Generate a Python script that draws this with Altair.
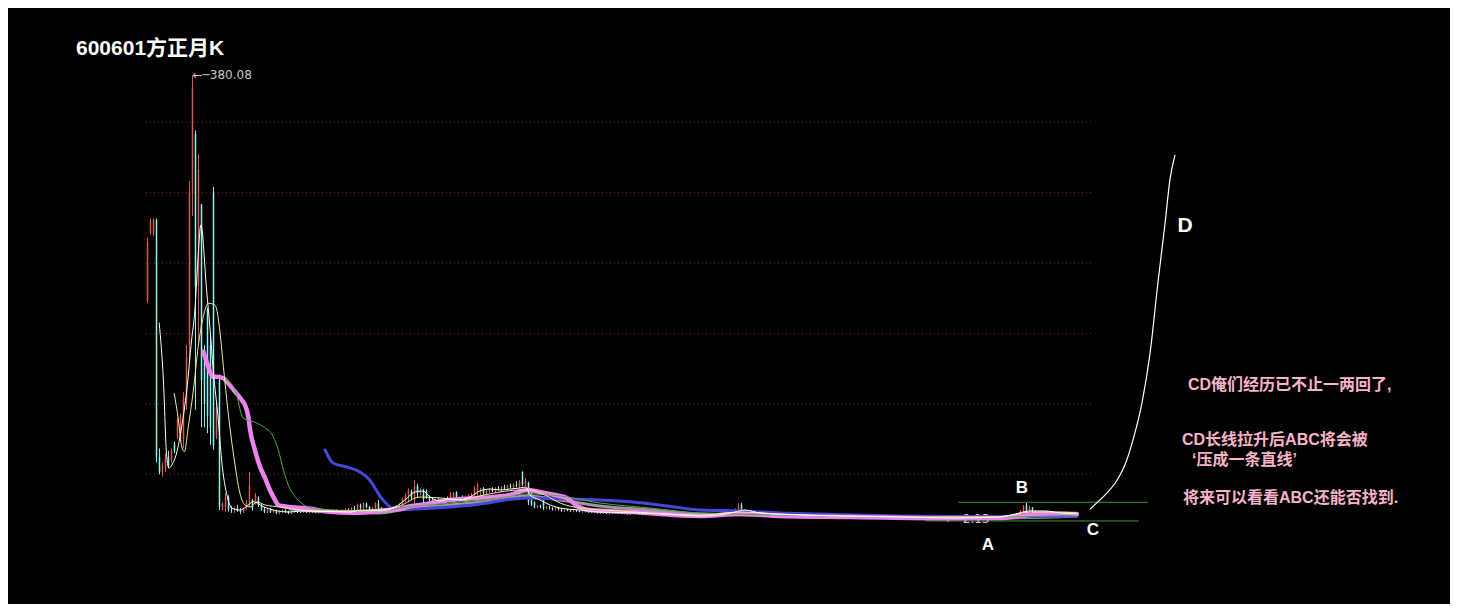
import altair as alt
import pandas as pd

# ---------------- monthly candles (index = month number) ----------------
opens = [
    188, 246, 245, 257, 55, 42, 45, 55, 52, 66,
    72, 70, 70, 100, 150, 280, 330, 200, 270, 146,
    180, 150, 280, 72, 120, 10, 12, 20, 10, 9,
    11, 9, 8, 11, 14, 18, 15, 20, 14, 10,
    8, 10, 8, 9, 7, 8, 9, 8, 7, 8,
    9, 8, 7.5, 8.5, 7.5, 8, 7.5, 7, 7.5, 8.5,
    7.5, 7, 8, 9.5, 8.5, 8, 9.5, 10, 9, 11,
    10, 14, 11, 15, 12, 10, 11, 15, 11, 9,
    10, 9, 11, 12, 13, 14, 18, 20, 26, 18,
    30, 24, 27, 26, 20, 18, 16, 18, 17, 16,
    19, 18, 20, 25, 19, 20, 19, 21, 22, 22,
    25, 27, 28, 24, 26, 27, 26, 28, 27, 29,
    28, 30, 29, 31, 30, 42, 31, 33, 25, 16,
    12, 13, 18, 11, 12, 11, 10, 11, 10, 9,
    9.5, 9, 8.5, 9, 8.5, 8, 8.5, 8, 7.5, 8,
    7.5, 7, 7.5, 7, 6.5, 7, 7.5, 7, 6.5, 7,
    6.5, 6, 6.5, 7, 6.5, 6, 5.5, 6, 6.5, 6,
    5.5, 5, 5.5, 6, 5.5, 5, 4.5, 5, 5.5, 5,
    4.5, 4, 4.5, 5, 4.5, 4, 4.5, 5, 5.5, 5,
    5.5, 6, 6.5, 7, 7.5, 8.5, 9.5, 8, 14, 9,
    7.5, 7, 6.5, 6, 6.5, 6, 5.5, 6, 5.5, 5,
    5.5, 5, 5.3, 5.6, 5.2, 5, 4.8, 5.1, 4.9, 4.6,
    5, 4.8, 4.5, 4.7, 5, 4.6, 4.3, 4.5, 4.8, 4.4,
    4.1, 4.3, 4.6, 4.3, 4, 4.2, 4.5, 4.1, 3.8, 4,
    4.3, 3.9, 3.6, 3.9, 4.1, 3.7, 3.5, 3.8, 4, 3.6,
    3.3, 3.6, 3.8, 3.4, 3.1, 3.4, 3.6, 3.2, 2.9, 3.2,
    3.4, 3, 2.7, 3, 3.2, 2.8, 2.5, 2.6, 2.9, 3.1,
    2.9, 2.7, 3, 3.2, 3.4, 3.1, 3.3, 3.5, 3.2, 3.4,
    3.6, 3.3, 3.5, 3.7, 3.4, 3.7, 4, 3.8, 4.1, 4.4,
    4.8, 5.3, 6.5, 14, 7, 11.5, 8, 7.5, 8, 7.5,
    8, 7, 7.5, 6.5, 7, 6.5, 6, 6.5, 6, 5.5, 6,
]
highs = [
    242, 258, 258, 258, 62, 50, 58, 60, 62, 68,
    88, 92, 110, 150, 290, 380.08, 333, 313, 270, 150,
    182, 160, 285, 100, 125, 16, 24, 22, 13, 12,
    14, 11, 12, 18, 42, 19, 24, 21, 15, 12,
    11, 11, 10, 10, 9, 10, 10, 9, 9, 10,
    10, 9, 9, 9, 8.5, 9, 8.5, 8, 9, 9,
    8.5, 8.5, 10, 10, 9.5, 10, 11, 11, 12, 13,
    15, 15, 16, 16, 13, 12, 16, 18, 12, 11,
    11, 12, 13, 14, 15, 20, 24, 28, 27, 35,
    32, 28, 27.5, 27, 22, 20, 19, 20, 19, 20,
    21, 25, 25, 25.5, 21, 22, 22, 23, 24, 30,
    33, 28.5, 29, 27, 28, 29, 29, 30, 30, 31,
    31, 32, 32, 34, 35, 42.5, 37, 33.7, 26, 17,
    14, 14, 18, 13, 13, 12, 12, 12, 11, 10,
    10.5, 10, 9.5, 10, 9.5, 9, 9.5, 9, 8.5, 9,
    8.5, 8, 8.5, 8, 7.5, 8, 8.5, 7.5, 7.5, 8,
    7, 7, 7.5, 7.5, 7, 6.5, 6.5, 7, 7, 6.5,
    6, 6, 6.5, 6.5, 6, 5.5, 5.5, 6, 6, 5.5,
    5, 5, 5.5, 5.5, 5, 5, 5.5, 6, 6, 6,
    6.5, 7, 7.5, 8, 9, 10, 11, 15.5, 15.8, 10,
    8.5, 7.5, 7, 7, 7, 6.5, 6.5, 6.5, 6, 6,
    6, 5.5, 6, 6.2, 5.8, 5.5, 5.4, 5.6, 5.3, 5.2,
    5.5, 5.2, 5, 5.3, 5.4, 5, 4.8, 5, 5.2, 4.8,
    4.6, 4.9, 5, 4.7, 4.5, 4.8, 4.9, 4.5, 4.3, 4.6,
    4.7, 4.3, 4.1, 4.4, 4.5, 4.1, 4, 4.3, 4.4, 4,
    3.8, 4.1, 4.2, 3.8, 3.6, 3.9, 4, 3.6, 3.4, 3.7,
    3.8, 3.4, 3.2, 3.5, 3.5, 3.1, 2.9, 3.1, 3.3, 3.5,
    3.2, 3.1, 3.4, 3.6, 3.8, 3.5, 3.7, 3.9, 3.6, 3.8,
    4, 3.7, 3.9, 4.1, 3.9, 4.2, 4.4, 4.3, 4.7, 5,
    5.6, 9.5, 13.8, 15.5, 13, 12, 9, 8.5, 9, 8.5,
    8.5, 8, 8, 7.5, 7.5, 7, 7, 7, 6.5, 6.5, 6.5,
]
lows = [
    186, 244, 243, 50, 40, 38, 42, 45, 50, 58,
    70, 68, 62, 95, 136, 260, 95, 150, 80, 80,
    75, 65, 61, 70, 9.5, 9, 8, 8, 7, 7,
    8, 6, 7, 10, 12, 9, 14, 12, 9, 7,
    7, 7, 7, 6, 6, 7, 7, 6, 6, 7,
    7, 7, 7, 7, 6.5, 7, 6.5, 6, 7, 7,
    6.5, 6.5, 7.5, 8, 7.5, 7.5, 8.5, 8.5, 8.5, 9,
    9, 10, 10, 11, 9, 9, 10, 10, 8, 8,
    8, 8, 9, 10, 11, 13, 16, 16, 18, 15,
    20, 22, 14, 19, 17, 15, 15, 16, 15, 15,
    17, 16, 15, 18, 17, 18, 18, 19, 20, 21,
    20, 20, 22, 23, 24, 25, 24, 26, 25, 27,
    26, 28, 27, 29, 28, 30, 30, 13.8, 13, 11,
    11, 11, 9.5, 10, 10, 9, 9, 9, 8, 8,
    8.5, 8, 7.5, 8, 7.5, 7, 7.5, 7, 6.5, 7,
    6.5, 6, 6.5, 6, 5.5, 6, 6.5, 6, 5.5, 6,
    5.5, 5.5, 6, 6, 5.5, 5, 5, 5.5, 5.5, 5,
    4.5, 4.5, 5, 5, 4.5, 4, 4, 4.5, 4.5, 4,
    3.5, 3.5, 4, 4, 3.5, 3.5, 4, 4.5, 4.5, 4.5,
    5, 5.5, 6, 6, 7, 7.5, 8.5, 7.5, 7.8, 7,
    6.5, 6, 5.5, 5.5, 5.5, 5, 5, 5, 4.5, 4.5,
    4.5, 4.5, 4.8, 5, 4.6, 4.4, 4.3, 4.5, 4.2, 4.1,
    4.5, 4.2, 4, 4.3, 4.4, 4, 3.8, 4, 4.2, 3.8,
    3.6, 3.9, 4.1, 3.7, 3.5, 3.8, 3.9, 3.5, 3.4, 3.7,
    3.8, 3.3, 3.2, 3.5, 3.6, 3.2, 3.1, 3.4, 3.5, 3.1,
    2.9, 3.2, 3.3, 2.9, 2.8, 3, 3.1, 2.7, 2.6, 2.9,
    2.9, 2.5, 2.4, 2.7, 2.6, 2.3, 2.13, 2.4, 2.6, 2.8,
    2.5, 2.4, 2.7, 2.9, 3, 2.8, 3, 3.1, 2.9, 3.1,
    3.2, 3, 3.1, 3.3, 3.1, 3.4, 3.6, 3.5, 3.8, 4,
    4.4, 5.2, 5.3, 5.3, 5.3, 7, 6.5, 6.5, 7, 6.5,
    6.5, 6.5, 6, 6, 6, 5.5, 5.5, 5.5, 5, 5, 5.5,
]
closes = [
    238, 256, 257, 55, 42, 48, 55, 47, 60, 60,
    86, 90, 105, 140, 280, 370, 200, 300, 120, 100,
    90, 80, 65, 97, 12, 15, 20, 10, 9, 11,
    9, 8, 11, 16, 30, 11, 22, 14, 10, 8,
    10, 8, 9, 7, 8, 9, 8, 7, 8, 9,
    8, 7.5, 8.5, 7.5, 8, 7.5, 7, 7.5, 8.5, 7.5,
    7, 8, 9.5, 8.5, 8, 9.5, 10, 9, 11, 10,
    14, 11, 15, 12, 10, 11, 15, 11, 9, 10,
    9, 11, 12, 13, 14, 19, 22, 26, 20, 30,
    24, 26, 19, 20, 18, 16, 18, 17, 16, 19,
    18, 24, 24, 19, 20, 19, 21, 22, 23, 28,
    31, 28, 24, 26, 27, 26, 28, 27, 29, 28,
    30, 29, 31, 30, 34, 31, 35, 16, 14, 12,
    13, 12, 11, 12, 11, 10, 11, 10, 9, 9.5,
    9, 8.5, 9, 8.5, 8, 8.5, 8, 7.5, 8, 7.5,
    7, 7.5, 7, 6.5, 7, 7.5, 7, 6.5, 7, 6.5,
    6, 6.5, 7, 6.5, 6, 5.5, 6, 6.5, 6, 5.5,
    5, 5.5, 6, 5.5, 5, 4.5, 5, 5.5, 5, 4.5,
    4, 4.5, 5, 4.5, 4, 4.5, 5, 5.5, 5, 5.5,
    6, 6.5, 7, 7.5, 8.5, 9.5, 10, 12, 9, 7.5,
    7, 6.5, 6, 6.5, 6, 5.5, 6, 5.5, 5, 5.5,
    5, 5.3, 5.6, 5.2, 5, 4.8, 5.1, 4.9, 4.6, 5,
    4.8, 4.5, 4.7, 5, 4.6, 4.3, 4.5, 4.8, 4.4, 4.1,
    4.3, 4.6, 4.3, 4, 4.2, 4.5, 4.1, 3.8, 4, 4.3,
    3.9, 3.6, 3.9, 4.1, 3.7, 3.5, 3.8, 4, 3.6, 3.3,
    3.6, 3.8, 3.4, 3.1, 3.4, 3.6, 3.2, 2.9, 3.2, 3.4,
    3, 2.7, 3, 3.2, 2.8, 2.5, 2.6, 2.9, 3.1, 2.9,
    2.7, 3, 3.2, 3.4, 3.1, 3.3, 3.5, 3.2, 3.4, 3.6,
    3.3, 3.5, 3.7, 3.4, 3.7, 4, 3.8, 4.1, 4.4, 4.8,
    5.3, 8.5, 12.5, 7, 11.5, 8, 7.5, 8, 7.5, 8,
    7, 7.5, 6.5, 7, 6.5, 6, 6.5, 6, 5.5, 6, 6,
]

# ---------------- moving-average lines (month, price) ----------------
white_m = [3.9, 5.3, 6.4, 7.2, 8.1, 9.7, 11.4, 13.1, 14.7, 15.8, 16.8, 17.8, 19.7, 20.8, 21.9,
           23.6, 24.7, 26.6, 28.1, 30.8, 32.8, 35.3, 38.6, 41.9, 47.5, 50.8, 67.5, 70.8, 77.5,
           82.5, 85.8, 89.2, 91.8, 94.2, 97.5, 100.8, 104.2, 107.5, 110.8, 114.2, 117.5, 120.8,
           124.2, 126.2, 127.5, 130.8, 134.2, 137.5, 144.2, 150.8, 164.2, 177.5, 184.2, 190.8,
           195.8, 199.2, 204.2, 217.5, 234.2, 250.8, 267.5, 284.2, 289.2, 294.2, 299.2, 304.2, 309.8]
white_p = [168.9, 120.3, 55.0, 45.3, 47.9, 58.1, 80.5, 111.8, 154.4, 180.0, 222.6, 252.5, 197.0,
           165.5, 128.9, 86.3, 52.2, 20.9, 11.2, 9.5, 12.1, 16.6, 12.4, 9.5, 7.8, 8.7, 7.8, 9.5,
           9.5, 12.1, 18.1, 24.9, 25.7, 20.6, 17.2, 18.9, 18.1, 20.6, 25.7, 27.4, 26.6, 27.4,
           28.3, 29.1, 22.3, 18.1, 13.8, 11.2, 9.5, 7.8, 7.0, 5.3, 4.4, 5.3, 7.8, 9.5, 7.0, 5.3,
           4.4, 3.6, 2.7, 3.6, 6.1, 8.7, 8.7, 7.0, 6.1]

yellow_m = [8.9, 10.3, 11.4, 12.3, 13.6, 15.3, 16.9, 18.6, 20.3, 22.5, 23.3, 24.2, 25.3, 26.9,
            28.6, 30.8, 32.5, 34.2, 36.4, 39.2, 44.2, 50.8, 57.5, 77.5, 84.2, 90.8, 97.5, 104.2,
            110.8, 117.5, 124.2, 127.5, 132.5, 137.5, 144.2, 157.5, 184.2, 197.5, 210.8, 250.8,
            284.2, 294.2, 304.2, 309.8]
yellow_p = [109.0, 86.3, 63.5, 59.2, 80.5, 111.8, 148.7, 174.3, 185.7, 184.3, 177.4, 160.4,
            131.7, 92.2, 58.1, 24.0, 13.8, 12.1, 16.4, 13.8, 12.1, 9.5, 8.7, 8.7, 13.0, 20.6,
            19.8, 18.1, 21.5, 24.9, 26.6, 26.6, 22.3, 15.5, 11.2, 8.7, 5.3, 7.8, 6.1, 3.6, 3.6,
            7.8, 7.8, 7.0]

green_m = [25.3, 29.2, 31.9, 35.3, 38.6, 41.9, 43.6, 45.3, 46.9, 49.2, 51.4, 53.1, 60.8, 77.5,
           84.2, 100.8, 117.5, 126.5, 137.5, 150.8, 167.5, 184.2, 210.8, 250.8, 284.2, 309.8]
green_p = [121.8, 111.8, 87.7, 84.8, 80.5, 72.0, 60.7, 43.6, 30.9, 20.9, 15.3, 12.4, 9.5, 8.7,
           11.2, 15.5, 19.8, 23.2, 21.5, 15.5, 11.2, 7.0, 5.3, 3.6, 3.6, 5.3]

pink_m = [18.6, 19.7, 20.8, 21.7, 23.1, 25.3, 26.9, 29.2, 31.4, 32.5, 33.6, 34.2, 35.8, 37.5,
          39.2, 40.8, 42.5, 43.6, 46.4, 53.1, 60.8, 68.5, 79.7, 84.2, 86.5, 90.8, 100.8, 110.8,
          120.8, 126.5, 130.8, 135.8, 139.8, 143.2, 147.5, 161.8, 184.2, 197.5, 210.8, 234.2,
          267.5, 284.2, 290.8, 297.5, 309.8]
pink_p = [144.5, 135.9, 127.4, 123.2, 123.2, 121.8, 117.5, 110.4, 103.3, 99.0, 89.1, 77.7, 60.7,
          46.5, 36.6, 26.6, 18.1, 13.8, 12.4, 11.0, 8.1, 7.2, 9.5, 10.4, 12.1, 13.8, 18.1, 19.8,
          22.3, 26.6, 24.9, 22.3, 19.8, 13.0, 9.5, 7.8, 4.4, 6.1, 4.4, 3.6, 2.5, 2.7, 4.4, 6.1,
          6.1]

blue_m = [59.2, 61.8, 66.5, 70.8, 73.5, 78.5, 81.8, 86.5, 100.8, 108.5, 126.5, 139.8, 150.8,
          161.8, 173.2, 184.2, 197.5, 210.8, 224.2, 250.8, 284.2, 309.8]
blue_p = [60.7, 49.6, 46.2, 41.9, 36.7, 18.1, 11.2, 10.4, 12.1, 13.8, 19.8, 18.9, 18.1, 16.4,
          13.0, 9.5, 8.7, 7.0, 6.1, 4.4, 3.6, 4.4]

gray_m = [47.5, 60.8, 77.5, 84.2, 100.8, 117.5, 126.5, 137.5, 150.8, 167.5, 184.2, 210.8,
          250.8, 284.2, 309.8]
gray_p = [10.4, 7.8, 7.0, 9.5, 13.8, 18.1, 21.5, 18.1, 13.0, 9.5, 6.1, 5.3, 3.6, 2.7, 4.4]

# ---------------- hand-drawn annotation ----------------
d_curve_m = [314.2, 317.5, 323.2, 325.8, 328.5, 331.5, 334.2, 336.8, 339.2, 340.8, 342.5]
d_curve_p = [10.4, 18.1, 35.1, 47.9, 69.3, 100.8, 143.4, 203.0, 254.2, 290.9, 312.2]

level_b = 16.1          # B level
level_b_span = [270.2, 333.5]
level_a = 0.2           # A level
level_a_span = [259.2, 330.5]

grid_prices = [40, 100, 160, 220, 280, 340]
grid_span = [-0.5, 315.0]

title_text = "600601方正月K"
note_lines = ["CD俺们经历已不止一两回了,", "CD长线拉升后ABC将会被", "‘压成一条直线’",
              "将来可以看看ABC还能否找到."]

# ---------------- chart ----------------
W, H = 1442, 596
xs = alt.Scale(domain=[-46.5, 434.1667], nice=False, zero=False)
ys = alt.Scale(domain=[(513.18 - H) / 1.17325, 513.18 / 1.17325], nice=False, zero=False)
FONT = "Liberation Sans, Noto Sans CJK SC, sans-serif"
RED, CYAN = "#d85a4e", "#8ef0f0"


def X(f):
    return alt.X(f, type="quantitative", scale=xs, axis=None)


def Y(f):
    return alt.Y(f, type="quantitative", scale=ys, axis=None)


candles = pd.DataFrame({"m": list(range(len(opens))), "o": opens, "h": highs,
                        "l": lows, "c": closes})
color_cond = alt.condition("datum.c >= datum.o", alt.value(RED), alt.value(CYAN))

wicks = alt.Chart(candles).mark_rule(strokeWidth=1).encode(
    x=X("m"), y=Y("l"), y2=alt.Y2("h"), color=color_cond)
bodies = alt.Chart(candles).mark_rule(strokeWidth=1.5).encode(
    x=X("m"), y=Y("o"), y2=alt.Y2("c"), color=color_cond)

grid = alt.Chart(pd.DataFrame({"p": grid_prices, "m0": grid_span[0], "m1": grid_span[1]})).mark_rule(
    color="#8a2424", strokeWidth=1, strokeDash=[1, 3]).encode(x=X("m0"), x2=alt.X2("m1"), y=Y("p"))

levels = alt.Chart(pd.DataFrame({
    "p": [level_b, level_a],
    "m0": [level_b_span[0], level_a_span[0]],
    "m1": [level_b_span[1], level_a_span[1]]})).mark_rule(
    color="#3f8f3f", strokeWidth=1).encode(x=X("m0"), x2=alt.X2("m1"), y=Y("p"))


def ma_line(ms, ps, color, width):
    df = pd.DataFrame({"m": ms, "p": ps})
    return alt.Chart(df).mark_line(color=color, strokeWidth=width, interpolate="monotone",
                                   strokeCap="round", strokeJoin="round").encode(x=X("m"), y=Y("p"))


imax = highs.index(max(highs))
imin = lows.index(min(lows))
extremes = pd.DataFrame({"m": [imax, imin], "p": [highs[imax], lows[imin]],
                         "t": ["\u2190\u2500" + format(highs[imax], ".2f"),
                               "\u2190\u2500" + format(lows[imin], ".2f")]})
extreme_text = alt.Chart(extremes).mark_text(
    align="left", baseline="middle", dx=0, fontSize=12, font="DejaVu Sans, Liberation Sans",
    color="#c8c8c8").encode(x=X("m"), y=Y("p"), text="t:N")

d_curve = alt.Chart(pd.DataFrame({"m": d_curve_m, "p": d_curve_p})).mark_line(
    color="#ffffff", strokeWidth=1.2, interpolate="monotone").encode(x=X("m"), y=Y("p"))


def label(txt, x, y, size, color, bold=True, align="left", baseline="middle"):
    return alt.Chart(pd.DataFrame({"t": [txt]})).mark_text(
        align=align, baseline=baseline, fontSize=size, font=FONT,
        fontWeight="bold" if bold else "normal", color=color).encode(
        x=alt.value(x), y=alt.value(y), text="t:N")


PINK = "#f6b4c6"
texts = [
    label(title_text, 68, 47, 21, "#ffffff", baseline="alphabetic"),
    label("A", 980, 537, 17, "#ffffff", align="center"),
    label("B", 1014, 480, 17, "#ffffff", align="center"),
    label("C", 1085, 522, 17, "#ffffff", align="center"),
    label("D", 1177, 218, 21, "#ffffff", align="center"),
    label(note_lines[0], 1180, 377, 16, PINK),
    label(note_lines[1], 1174, 432, 16, PINK),
    label(note_lines[2], 1184, 452, 16, PINK),
    label(note_lines[3], 1175, 490, 16, PINK),
]

layers = [grid, levels, extreme_text, wicks, bodies,
          ma_line(gray_m, gray_p, "#9a9a9a", 3),
          ma_line(blue_m, blue_p, "#4646d8", 3),
          ma_line(pink_m, pink_p, "#ee82ee", 4.5),
          ma_line(green_m, green_p, "#4fa84f", 1),
          ma_line(yellow_m, yellow_p, "#ecec96", 1),
          ma_line(white_m, white_p, "#ffffff", 1),
          d_curve] + texts

chart = alt.layer(*layers).properties(
    width=W, height=H, padding=0, background="#000000",
    autosize=alt.AutoSizeParams(type="none"),
).configure_view(strokeWidth=0)

chart.save("out.html", embed_options={"renderer": "svg", "actions": False})
